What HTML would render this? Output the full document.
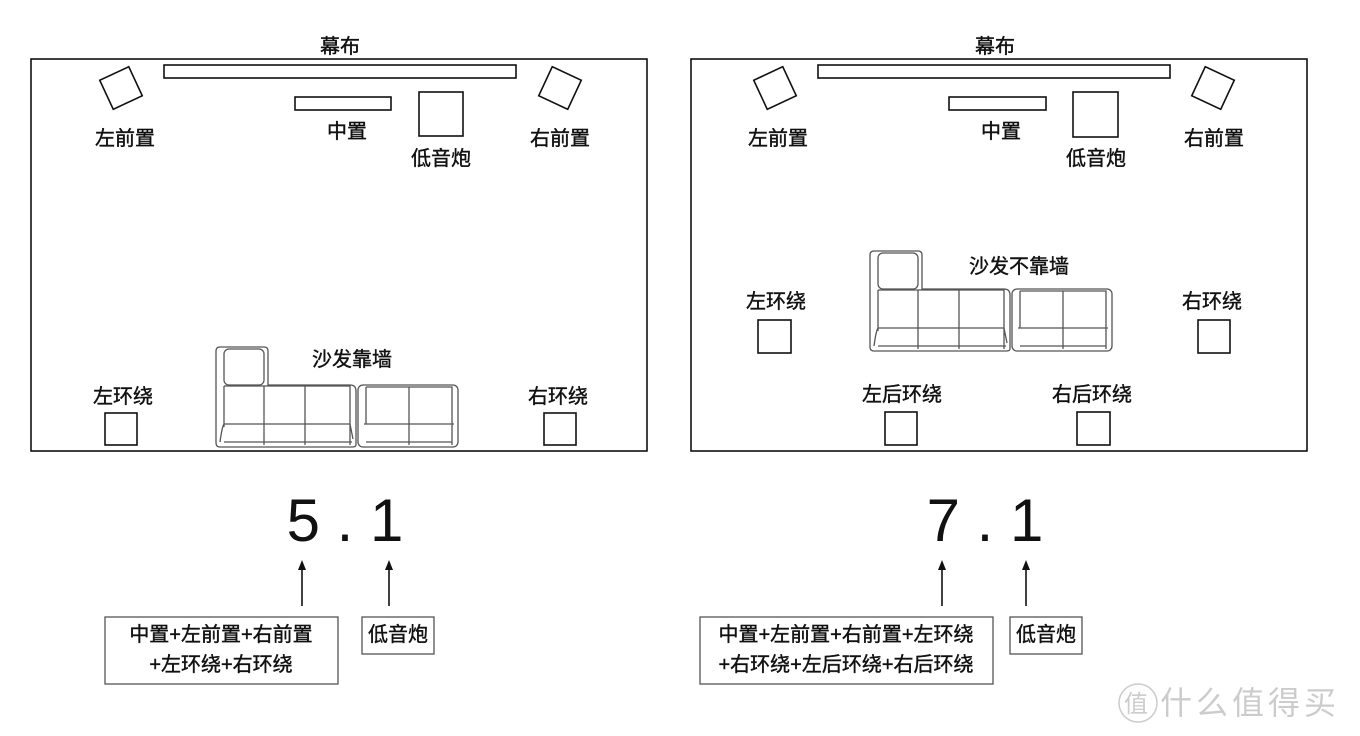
<!DOCTYPE html>
<html><head><meta charset="utf-8"><style>
body{margin:0;background:#fff;}
svg{display:block;font-family:"Liberation Sans","Noto Sans CJK SC",sans-serif;}
.t{font-size:20px;text-anchor:middle;fill:#111;stroke:#111;stroke-width:0.4;}
.s{fill:none;stroke:#111;stroke-width:1.6;}
.f{fill:none;stroke:#555;stroke-width:1.3;}
</style></head><body>
<svg width="1360" height="736" viewBox="0 0 1360 736">
<defs>
<g id="sofa">
  <path class="f" d="M4,0 H48 Q52,0 52,4 V38 H134 Q140,38 140,44 V98 Q140,100 136,100 H4 Q0,100 0,96 V4 Q0,0 4,0Z"/>
  <rect class="f" x="8" y="2" width="40" height="36" rx="5"/>
  <path class="f" d="M8,39 H48 V98 M48,39 H89 V98 M89,39 H134 V98 M8,39 V80 M8,77 H134 M4,95 Q6,80 8,77 M134,77 L137,92"/>
  <path class="f" d="M8,95 H136"/>
  <rect class="f" x="142" y="38" width="100" height="62" rx="5"/>
  <path class="f" d="M150,40 H193 V98 M193,40 H236 V98 M150,40 V77 M236,40 V77 M148,77 H238 M150,95 H236"/>
</g>
</defs>

<!-- LEFT -->
<rect x="31" y="59" width="616" height="392" class="s" stroke-width="2"/>
<text x="340" y="53" class="t">幕布</text>
<rect x="164" y="65" width="352" height="13" class="s" stroke-width="2.4"/>
<rect x="-16" y="-16" width="32" height="32" class="s" transform="translate(121,88) rotate(-25)"/>
<text x="125" y="145" class="t">左前置</text>
<rect x="295" y="97" width="96" height="13" class="s"/>
<text x="347" y="138" class="t">中置</text>
<rect x="419" y="92" width="44" height="44" class="s"/>
<text x="441" y="165" class="t">低音炮</text>
<rect x="-16" y="-16" width="32" height="32" class="s" transform="translate(560,88) rotate(25)"/>
<text x="560" y="145" class="t">右前置</text>
<text x="123" y="403" class="t">左环绕</text>
<rect x="105" y="413" width="32" height="32" class="s"/>
<text x="558" y="403" class="t">右环绕</text>
<rect x="544" y="413" width="32" height="32" class="s"/>
<use href="#sofa" x="216" y="347"/>
<text x="352" y="366" class="t">沙发靠墙</text>
<text x="345" y="541" font-size="60" text-anchor="middle" fill="#111">5 . 1</text>
<path class="s" d="M302,606 V566 M389,606 V566"/>
<path d="M298,570 L302,560 L306,570Z M385,570 L389,560 L393,570Z" fill="#111"/>
<rect x="105" y="617" width="233" height="67" class="f"/>
<text x="221" y="641" class="t">中置+左前置+右前置</text>
<text x="221" y="671" class="t">+左环绕+右环绕</text>
<rect x="362" y="617" width="72" height="37" class="f"/>
<text x="398" y="641" class="t">低音炮</text>

<!-- RIGHT -->
<rect x="691" y="59" width="616" height="392" class="s" stroke-width="2"/>
<text x="995" y="53" class="t">幕布</text>
<rect x="818" y="65" width="352" height="13" class="s" stroke-width="2.4"/>
<rect x="-16" y="-16" width="32" height="32" class="s" transform="translate(775,88) rotate(-25)"/>
<text x="778" y="145" class="t">左前置</text>
<rect x="949" y="97" width="97" height="13" class="s"/>
<text x="1001" y="138" class="t">中置</text>
<rect x="1073" y="92" width="45" height="45" class="s"/>
<text x="1096" y="165" class="t">低音炮</text>
<rect x="-16" y="-16" width="32" height="32" class="s" transform="translate(1213,88) rotate(25)"/>
<text x="1214" y="145" class="t">右前置</text>
<text x="776" y="308" class="t">左环绕</text>
<rect x="758" y="320" width="33" height="33" class="s"/>
<text x="1212" y="308" class="t">右环绕</text>
<rect x="1198" y="320" width="32" height="33" class="s"/>
<use href="#sofa" x="870" y="251"/>
<text x="1019" y="273" class="t">沙发不靠墙</text>
<text x="902" y="401" class="t">左后环绕</text>
<rect x="885" y="412" width="32" height="33" class="s"/>
<text x="1092" y="401" class="t">右后环绕</text>
<rect x="1077" y="412" width="33" height="33" class="s"/>
<text x="985" y="541" font-size="60" text-anchor="middle" fill="#111">7 . 1</text>
<path class="s" d="M942,606 V566 M1026,606 V566"/>
<path d="M938,570 L942,560 L946,570Z M1022,570 L1026,560 L1030,570Z" fill="#111"/>
<rect x="700" y="617" width="293" height="67" class="f"/>
<text x="846" y="641" class="t">中置+左前置+右前置+左环绕</text>
<text x="846" y="671" class="t">+右环绕+左后环绕+右后环绕</text>
<rect x="1010" y="617" width="72" height="37" class="f"/>
<text x="1046" y="641" class="t">低音炮</text>

<!-- watermark -->
<circle cx="1138" cy="703" r="19" fill="none" stroke="#ccc" stroke-width="1.5"/>
<text x="1136" y="712" font-size="24" text-anchor="middle" fill="#ccc">值</text>
<text x="1250" y="714" font-size="32" text-anchor="middle" fill="#ccc" letter-spacing="4">什么值得买</text>
</svg>
</body></html>
